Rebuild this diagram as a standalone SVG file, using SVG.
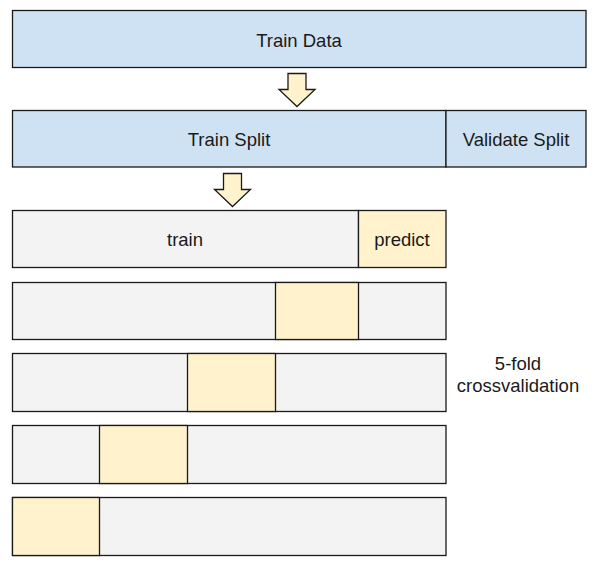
<svg xmlns="http://www.w3.org/2000/svg" width="598" height="567" viewBox="0 0 598 567">
<style>
.b{stroke:#1a1a1a;stroke-width:1.3}
.blue{fill:#cfe2f3}
.gray{fill:#f3f3f3}
.yel{fill:#fff2cc}
text{font-family:"Liberation Sans",Arial,sans-serif;font-size:18.5px;fill:#1a1a1a;text-anchor:middle}
</style>
<rect width="598" height="567" fill="#fff"/>
<g id="train-data">
<rect class="b blue" x="12.5" y="10.5" width="573.5" height="57"/>
<text x="299" y="46.5">Train Data</text>
</g>
<g id="train-split">
<rect class="b blue" x="12.5" y="110.5" width="433.5" height="56.5"/>
<text x="229" y="145.5">Train Split</text>
</g>
<g id="validate-split">
<rect class="b blue" x="446" y="110.5" width="140" height="56.5"/>
<text x="516" y="145.5">Validate Split</text>
</g>
<g id="connectors">
<path class="b yel" d="M288 73.5H306V89.5H315L297 106.5L279 89.5H288Z"/>
<path class="b yel" d="M223.5 173.5H241.5V189.5H250.5L232.5 206.5L214.5 189.5H223.5Z"/>
</g>
<g id="fold1">
<rect class="b gray" x="12.5" y="210.5" width="346" height="57"/>
<rect class="b yel" x="358.5" y="210.5" width="87.5" height="57"/>
<text x="185" y="246">train</text>
<text x="402" y="246">predict</text>
</g>
<g id="fold2">
<rect class="b gray" x="12.5" y="282.5" width="433.5" height="57"/>
<rect class="b yel" x="275.5" y="282.5" width="83" height="57"/>
</g>
<g id="fold3">
<rect class="b gray" x="12.5" y="353.5" width="433.5" height="58"/>
<rect class="b yel" x="187.5" y="353.5" width="88" height="58"/>
</g>
<g id="fold4">
<rect class="b gray" x="12.5" y="425.5" width="433.5" height="58"/>
<rect class="b yel" x="99.5" y="425.5" width="88" height="58"/>
</g>
<g id="fold5">
<rect class="b gray" x="12.5" y="497.5" width="433.5" height="58"/>
<rect class="b yel" x="12.5" y="497.5" width="87" height="58"/>
</g>
<g id="label">
<text x="518" y="370">5-fold</text>
<text x="518" y="392">crossvalidation</text>
</g>
</svg>
